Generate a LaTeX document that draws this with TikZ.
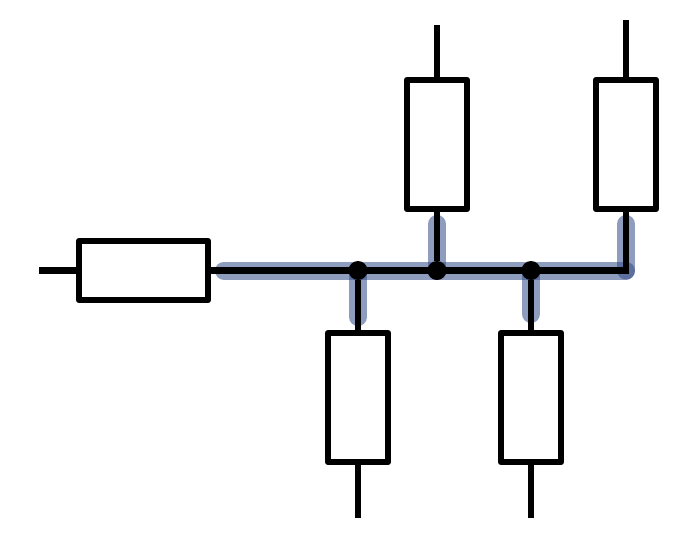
\documentclass[tikz,border=0pt]{standalone}
\definecolor{hl}{RGB}{50,75,135}
\tikzset{
  res/.style={draw=black,fill=white,line width=6.5pt,line join=round,outer sep=0pt,inner sep=0pt,rectangle},
  hres/.style={res,minimum width=129pt,minimum height=59pt},
  vres/.style={res,minimum width=60pt,minimum height=129pt},
  wire/.style={draw=black,line width=6.5pt,line join=miter},
  glow/.style={draw=hl,line width=18pt,line cap=round,opacity=0.55},
  joint/.style={circle,fill=black,inner sep=0pt,outer sep=0pt,minimum size=19pt}
}
\begin{document}
\begin{tikzpicture}[x=1pt,y=-1pt]
\useasboundingbox (0,0) rectangle (698,539);
% free ends and junctions
\coordinate (inL) at (39,270.5);
\coordinate (outA) at (437,25);
\coordinate (outB) at (626,20);
\coordinate (outC) at (358,518);
\coordinate (outD) at (531,518);
\coordinate (corner) at (626,270.5);
\coordinate (gStart) at (224,270.5);
\coordinate (gA) at (437,224);
\coordinate (gB) at (626,224);
\coordinate (gC) at (358,317);
\coordinate (gD) at (531,314);
\coordinate (cJ) at (358,270.5);
\coordinate (aJ) at (437,270.5);
\coordinate (dJ) at (531,270.5);
% highlight
\path[glow] (gStart) -- (corner);
\path[glow] (gB) -- (corner);
\path[glow] (gA) -- (aJ);
\path[glow] (gC) -- (cJ);
\path[glow] (gD) -- (dJ);
% resistors
\node[hres] (L) at (143.5,270.5) {};
\node[vres] (A) at (437,144.5) {};
\node[vres] (B) at (626,144.5) {};
\node[vres] (C) at (358,397.5) {};
\node[vres] (D) at (531,397.5) {};
% junctions
\node[joint] (jC) at (cJ) {};
\node[joint] (jA) at (aJ) {};
\node[joint] (jD) at (dJ) {};
% wires
\path[wire] (inL) -- (L.west);
\path[wire] (L.east) -- (jC.center) -- (jA.center) -- (jD.center) -- (corner) -- (B.south);
\path[wire] (outB) -- (B.north);
\path[wire] (outA) -- (A.north);
\path[wire] (A.south) -- (jA);
\path[wire] (jC) -- (C.north);
\path[wire] (C.south) -- (outC);
\path[wire] (jD) -- (D.north);
\path[wire] (D.south) -- (outD);
\end{tikzpicture}
\end{document}
